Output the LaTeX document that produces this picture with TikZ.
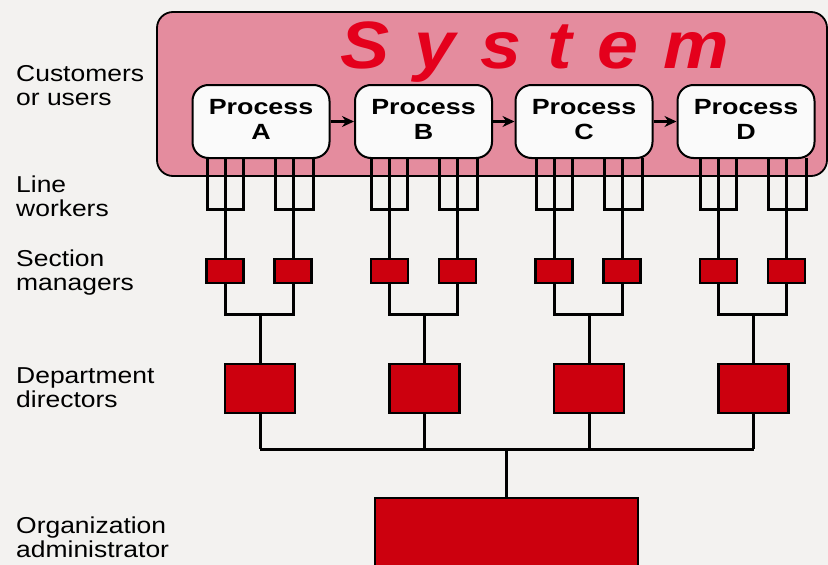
\documentclass[tikz,border=0pt]{standalone}
\usepackage{fontspec}
\setmainfont{Liberation Sans}
\usepackage{graphicx}
\usetikzlibrary{arrows.meta,calc}
\definecolor{bgcol}{RGB}{243,242,240}
\definecolor{pinkfill}{RGB}{228,140,158}
\definecolor{boxred}{RGB}{204,0,14}
\definecolor{sysred}{RGB}{228,0,28}
\definecolor{procfill}{RGB}{250,250,250}
\newcommand{\proclabel}[1]{\scalebox{1.22}[1]{\begin{tabular}{@{}c@{}}Process\\#1\end{tabular}}}
\newcommand{\sidelabel}[2]{\scalebox{1.15}[1]{\begin{tabular}[t]{@{}l@{}}#1\\#2\end{tabular}}}
\tikzset{
  wire/.style={line width=3pt, line join=miter},
  sysbox/.style={draw, line width=1.8pt, rounded corners=16pt, fill=pinkfill, minimum width=670pt, minimum height=164pt, inner sep=0pt},
  proc/.style={draw, line width=2pt, rounded corners=16pt, fill=procfill, minimum width=137pt, minimum height=73pt, inner sep=0pt, font=\fontsize{22}{25}\selectfont\bfseries},
  secbox/.style={draw, line width=2.2pt, fill=boxred, minimum width=37pt, minimum height=24pt, inner sep=0pt},
  deptbox/.style={secbox, minimum width=70pt, minimum height=49pt},
  orgbox/.style={secbox, minimum width=263pt, minimum height=80pt},
  side/.style={anchor=base west, inner sep=0pt, font=\fontsize{23}{24}\selectfont},
  flow/.style={line width=2.4pt, -{Stealth[length=12pt,width=11pt]}}
}
\begin{document}
\begin{tikzpicture}[x=1pt,y=-1pt]
\useasboundingbox (0,0) rectangle (828,565);
\clip (0,0) rectangle (828,565);
\fill[bgcol] (0,0) rectangle (828,565);

% system frame
\node[sysbox] (system) at (492,94) {};
\node[anchor=base west, inner sep=0pt, text=sysred, font=\fontsize{67}{67}\selectfont\bfseries\itshape] (systitle) at (340,68)
  {\scalebox{1.1}[1]{S\hspace{23pt}y\hspace{23pt}s\hspace{23pt}t\hspace{23pt}e\hspace{23pt}m}};

% side labels
\node[side] (l1) at (16,81) {\sidelabel{Customers}{or users}};
\node[side] (l2) at (16,192) {\sidelabel{Line}{workers}};
\node[side] (l3) at (16,266) {\sidelabel{Section}{managers}};
\node[side] (l4) at (16,383) {\sidelabel{Department}{directors}};
\node[side] (l5) at (16,533) {\sidelabel{Organization}{administrator}};

% processes
\node[proc] (pA) at (261,121.5) {\proclabel{A}};
\node[proc] (pB) at (423.5,121.5) {\proclabel{B}};
\node[proc] (pC) at (584,121.5) {\proclabel{C}};
\node[proc] (pD) at (746,121.5) {\proclabel{D}};
\draw[flow] (pA) -- (pB);
\draw[flow] (pB) -- (pC);
\draw[flow] (pC) -- (pD);

% organization administrator
\node[orgbox] (org) at (506.5,538) {};

\foreach \n/\gx in {A/260,B/424.5,C/589,D/753.5}{
  \node[secbox] (s\n1) at (\gx-35,271) {};
  \node[secbox] (s\n2) at (\gx+33,271) {};
  \node[deptbox] (d\n) at (\gx,388.5) {};
  \coordinate (j\n) at (\gx,314);
  \coordinate (k\n) at (\gx,449);
  \draw[wire] (\gx-53,158) -- (\gx-53,209) -- (\gx-17,209) -- (\gx-17,158);
  \draw[wire] (\gx+15,158) -- (\gx+15,209) -- (\gx+53,209) -- (\gx+53,158);
  \draw[wire] (\gx-35,158) -- (s\n1.north);
  \draw[wire] (\gx+33,158) -- (s\n2.north);
  \draw[wire] (s\n1.south) |- (j\n) -| (s\n2.south);
  \draw[wire] (j\n) -- (d\n.north);
  \draw[wire] (d\n.south) -- (k\n);
}
\draw[wire] (kA) -- (kD);
\draw[wire] (org.north) -- (org.north |- kA);
\end{tikzpicture}
\end{document}
